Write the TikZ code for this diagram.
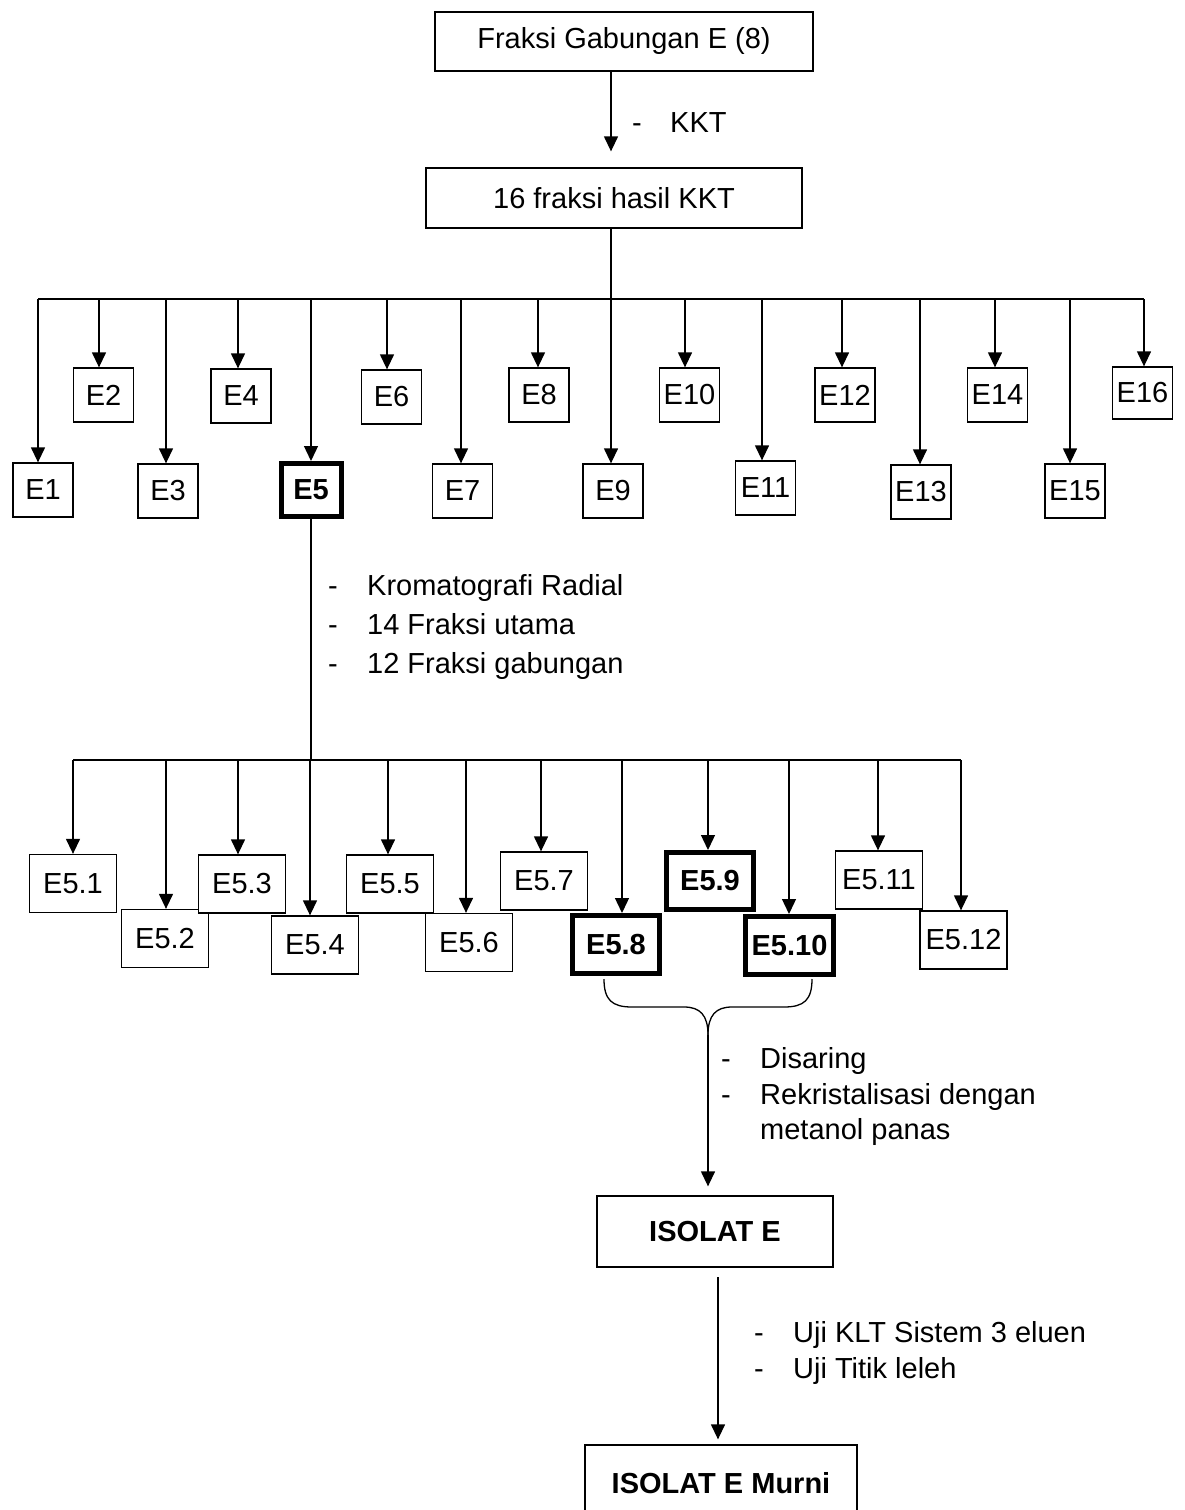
\documentclass[tikz,border=0pt]{standalone}
\usepackage{fontspec}
\setmainfont{Liberation Sans}
\usetikzlibrary{arrows.meta}
\begin{document}
\begin{tikzpicture}[x=1pt,y=-1pt,
  ln/.style={line width=1.3pt},
  arr/.style={line width=1.3pt,-{Triangle[width=14pt,length=15pt]}},
  bx/.style={draw,line width=1.3pt,fill=white,inner sep=0pt,font=\fontsize{29}{34}\selectfont},
  thk/.style={line width=5pt,font=\fontsize{29}{34}\selectfont\bfseries},
  eb/.style={bx,minimum width=60pt,minimum height=54pt},
  fb/.style={bx,minimum width=87pt,minimum height=58pt},
  lbl/.style={anchor=base west,inner sep=0pt,font=\fontsize{29}{34}\selectfont}
]
\useasboundingbox (0,0) rectangle (1184,1510);

% top boxes
\node[bx,minimum width=378pt,minimum height=59pt] (b1) at (624,41.5) {Fraksi Gabungan E (8)};
\node[bx,minimum width=376pt,minimum height=60pt] (b2) at (614,198) {16 fraksi hasil KKT};
\coordinate (k) at (611,0);
\draw[arr,shorten >=16pt] (k |- b1.south) -- (k |- b2.north);
\node[lbl] (d0) at (632,132) {-};
\node[lbl] (t0) at (670,132) {KKT};

% first level
\node[eb] (e1) at (43,490) {E1};
\node[eb] (e2) at (103.5,395) {E2};
\node[eb] (e3) at (168,491) {E3};
\node[eb] (e4) at (241,396) {E4};
\node[eb,thk,minimum height=53pt] (e5) at (311,490) {E5};
\node[eb] (e6) at (391.5,397) {E6};
\node[eb] (e7) at (462.5,491) {E7};
\node[eb] (e8) at (539,395) {E8};
\node[eb] (e9) at (613,491) {E9};
\node[eb] (e10) at (689.5,395) {E10};
\node[eb] (e11) at (765.5,488) {E11};
\node[eb] (e12) at (845,395) {E12};
\node[eb] (e13) at (921,492) {E13};
\node[eb] (e14) at (997.5,395) {E14};
\node[eb] (e15) at (1075,491) {E15};
\node[eb,minimum height=52pt] (e16) at (1142.5,393) {E16};

\coordinate (m) at (611,299);
\draw[ln] (k |- b2.south) -- (m);
\foreach \i/\x in {1/38,2/99,3/166,4/238,5/311,6/387,7/461,8/538,9/611,10/685,11/762,12/842,13/920,14/995,15/1070,16/1144}{
  \coordinate (p\i) at (\x,299);
  \draw[arr] (p\i) -- (p\i |- e\i.north);
}
\draw[ln] (p1) -- (p16);

% E5 branch
\coordinate (q) at (311,760);
\draw[ln] (e5.south) -- (e5.south |- q);
\node[lbl] (d1) at (328,595) {-};
\node[lbl] (t1) at (367,595) {Kromatografi Radial};
\node[lbl] (d2) at (328,634) {-};
\node[lbl] (t2) at (367,634) {14 Fraksi utama};
\node[lbl] (d3) at (328,673) {-};
\node[lbl] (t3) at (367,673) {12 Fraksi gabungan};

% second level
\node[fb] (f1) at (73,883.5) {E5.1};
\node[fb] (f2) at (165,938.5) {E5.2};
\node[fb] (f3) at (242,884) {E5.3};
\node[fb] (f4) at (315,945) {E5.4};
\node[fb] (f5) at (390,884) {E5.5};
\node[fb] (f6) at (469,942.5) {E5.6};
\node[fb] (f7) at (544,881) {E5.7};
\node[fb,thk] (f8) at (616,944.5) {E5.8};
\node[fb,thk,minimum height=57pt] (f9) at (710,881) {E5.9};
\node[fb,thk,minimum width=88pt] (f10) at (789.5,945.5) {E5.10};
\node[fb] (f11) at (879,880) {E5.11};
\node[fb] (f12) at (963.5,940) {E5.12};

\foreach \i/\x in {1/73,2/166,3/238,4/310,5/388,6/466,7/541,8/622,9/708,10/789,11/878,12/961}{
  \coordinate (r\i) at (\x,760);
  \draw[arr] (r\i) -- (r\i |- f\i.north);
}
\draw[ln] (r1) -- (r12);

% brace
\coordinate (bl) at (604,979);
\coordinate (br) at (812,979);
\coordinate (bt) at (708,1035);
\draw[ln] (bl) .. controls (604,1000) and (612,1007) .. (632,1007) -- (684,1007)
  .. controls (700,1007) and (708,1015) .. (bt);
\draw[ln] (br) .. controls (812,1000) and (804,1007) .. (784,1007) -- (732,1007)
  .. controls (716,1007) and (708,1015) .. (bt);

\node[bx,minimum width=236pt,minimum height=71pt,font=\fontsize{29}{34}\selectfont\bfseries] (iso) at (715,1231.5) {ISOLAT E};
\draw[arr,shorten >=9pt] (bt) -- (bt |- iso.north);
\node[lbl] (d4) at (721,1068) {-};
\node[lbl] (t4) at (760,1068) {Disaring};
\node[lbl] (d5) at (721,1104) {-};
\node[lbl] (t5) at (760,1104) {Rekristalisasi dengan};
\node[lbl] (t6) at (760,1139) {metanol panas};

% final
\node[bx,minimum width=272pt,minimum height=76pt,font=\fontsize{29}{34}\selectfont\bfseries] (mur) at (721,1483) {ISOLAT E Murni};
\coordinate (s) at (718,1277);
\draw[arr,shorten >=5pt] (s) -- (s |- mur.north);
\node[lbl] (d7) at (754,1342) {-};
\node[lbl] (t7) at (793,1342) {Uji KLT Sistem 3 eluen};
\node[lbl] (d8) at (754,1378) {-};
\node[lbl] (t8) at (793,1378) {Uji Titik leleh};
\end{tikzpicture}
\end{document}
